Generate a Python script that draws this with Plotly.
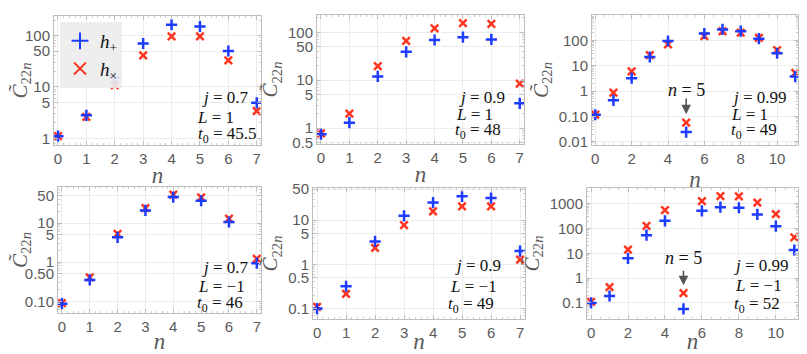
import numpy as np
import plotly.graph_objects as go
from plotly.subplots import make_subplots

# values (log scale)
n8 = list(range(8))
n12 = list(range(12))

plus_a = [1.1, 2.8, 15, 70, 162, 150, 50, 4.9]
cross_a = [1.1, 2.6, 10.8, 41, 96, 96, 33, 3.4]
plus_b = [0.75, 1.3, 12, 39, 69, 79, 71, 3.3]
cross_b = [0.78, 2.0, 19.7, 66, 121, 155, 150, 8.5]
plus_c = [0.116, 0.43, 3.2, 22, 94, 0.024, 186, 270, 230, 116, 31, 3.7]
cross_c = [0.116, 0.86, 6.0, 26, 70, 0.057, 148, 230, 200, 126, 41, 5.2]
plus_d = [0.087, 0.35, 4.3, 21, 46, 37, 10.6, 0.94]
cross_d = [0.09, 0.41, 5.3, 24, 53, 45, 12.9, 1.22]
plus_e = [0.1, 0.32, 3.3, 12.5, 25, 34.5, 31.6, 2.0]
cross_e = [0.11, 0.215, 2.35, 7.7, 15.7, 20.4, 20.4, 1.28]
plus_f = [0.1, 0.19, 6.3, 54, 205, 0.057, 520, 730, 690, 370, 124, 13.6]
cross_f = [0.11, 0.43, 14, 128, 550, 0.25, 1280, 2040, 1980, 1100, 380, 44]

j_vals = ["0.7", "0.9", "0.99", "0.7", "0.9", "0.99"]
L_vals = ["1", "1", "1", "\u22121", "\u22121", "\u22121"]
t0_vals = ["45.5", "48", "49", "46", "49", "52"]

yticks_a = [1, 5, 10, 50, 100]
ylabels_a = ["1", "5", "10", "50", "100"]
yticks_b = [0.5, 1, 5, 10, 50, 100]
ylabels_b = ["0.5", "1", "5", "10", "50", "100"]
yticks_c = [0.01, 0.1, 1, 10, 100, 1000]
ylabels_c = ["0.01", "0.10", "1", "10", "100", "1000"]
yticks_d = [0.05, 0.1, 0.5, 1, 5, 10, 50]
ylabels_d = ["0.05", "0.10", "0.50", "1", "5", "10", "50"]
yticks_e = [0.1, 0.5, 1, 5, 10, 50]
ylabels_e = ["0.1", "0.5", "1", "5", "10", "50"]
yticks_f = [0.1, 1, 10, 100, 1000]
ylabels_f = ["0.1", "1", "10", "100", "1000"]

panels = [
    (n8, plus_a, cross_a, yticks_a, ylabels_a, [-0.13, 2.38], [-0.14, 7.15]),
    (n8, plus_b, cross_b, yticks_b, ylabels_b, [-0.33, 2.36], [-0.14, 7.15]),
    (n12, plus_c, cross_c, yticks_c, ylabels_c, [-2.13, 3.0], [-0.18, 11.15]),
    (n8, plus_d, cross_d, yticks_d, ylabels_d, [-1.30, 1.92], [-0.14, 7.15]),
    (n8, plus_e, cross_e, yticks_e, ylabels_e, [-1.235, 1.727], [-0.14, 7.17]),
    (n12, plus_f, cross_f, yticks_f, ylabels_f, [-1.65, 3.635], [-0.22, 11.2]),
]

# the page body has an 8px margin, so the figure is drawn from (8, 8)
OFF = 8
W, H = 807 - OFF, 354 - OFF


def px_x(v):
    return (v - OFF) / W


def px_y(v):
    return 1 - (v - OFF) / H


# plot boxes in window pixels: left, right, top, bottom
boxes = [(54, 261, 16, 145), (317, 524, 15, 144), (592, 798, 15, 145),
         (58, 261, 187, 313), (313, 525, 188, 319), (587, 798, 188, 319)]
# j / L / t0 text positions in window pixels (left x, y of each line)
txt_pos = [
    [(200, 98), (195, 117), (196, 135)],
    [(457, 97), (454, 114), (453, 131)],
    [(730, 97), (729, 114), (729, 131)],
    [(200, 267), (196, 286), (195, 304)],
    [(453, 265), (448, 286), (446, 305)],
    [(732, 265), (733, 285), (732, 305)],
]

blue = "#1e3cff"
red = "#ff3520"
grey_txt = "#5a5a5a"
serif = "Liberation Serif, Times New Roman, DejaVu Serif, serif"
sans = "Liberation Sans, Arial, Helvetica, sans-serif"

fig = make_subplots(rows=2, cols=3)

for i, (nn, yp, yc, tv, tl, yr, xr) in enumerate(panels):
    r, c = i // 3 + 1, i % 3 + 1
    fig.add_trace(go.Scatter(x=nn, y=yc, mode="markers", name="<i>h</i><sub>\u00d7</sub>",
                             legendrank=2, showlegend=(i == 0),
                             marker=dict(symbol="x-thin", size=7.5, color=red,
                                         line=dict(color=red, width=2.5))),
                  row=r, col=c)
    fig.add_trace(go.Scatter(x=nn, y=yp, mode="markers", name="<i>h</i><sub>+</sub>",
                             legendrank=1, showlegend=(i == 0),
                             marker=dict(symbol="cross-thin", size=8, color=blue,
                                         line=dict(color=blue, width=2.5))),
                  row=r, col=c)

    l, rr, t, b = boxes[i]
    minor_vals = [m * 10.0 ** d for d in range(-3, 4) for m in range(1, 10)]
    fig.update_yaxes(type="log", range=yr, tickvals=tv, ticktext=tl,
                     domain=[px_y(b), px_y(t)], automargin=False,
                     showline=True, mirror="ticks", linecolor="#bdbdbd", linewidth=1,
                     ticks="inside", ticklen=4, tickcolor="#bdbdbd",
                     minor=dict(tickvals=minor_vals, ticks="inside", ticklen=2,
                                tickcolor="#cfcfcf", showgrid=False),
                     showgrid=True, gridcolor="#ececec", gridwidth=1, zeroline=False,
                     tickfont=dict(family=sans, size=15, color=grey_txt),
                     title=dict(text="<i>C\u0303</i><sub>22<i>n</i></sub>",
                                font=dict(family=serif, size=21, color=grey_txt),
                                standoff=4),
                     row=r, col=c)
    if len(nn) > 8:
        xt = list(range(0, 12, 2))
    else:
        xt = list(range(8))
    fig.update_xaxes(range=xr, tickvals=xt, domain=[px_x(l), px_x(rr)], automargin=False,
                     showline=True, mirror="ticks", linecolor="#bdbdbd", linewidth=1,
                     ticks="inside", ticklen=4, tickcolor="#bdbdbd",
                     minor=dict(dtick=0.2 if len(nn) <= 8 else 0.5, ticks="inside", ticklen=2,
                                tickcolor="#cfcfcf", showgrid=False),
                     showgrid=True, gridcolor="#ececec", gridwidth=1, zeroline=False,
                     tickfont=dict(family=sans, size=15, color=grey_txt),
                     title=dict(text="<i>n</i>", font=dict(family=serif, size=23, color=grey_txt),
                                standoff=0),
                     row=r, col=c)

    texts = ["<i>j</i> = " + j_vals[i], "<i>L</i> = " + L_vals[i],
             "<i>t</i><sub>0</sub> = " + t0_vals[i]]
    for (px, py), s in zip(txt_pos[i], texts):
        fig.add_annotation(x=px_x(px), y=px_y(py), xref="paper", yref="paper",
                           text=s, showarrow=False, xanchor="left", yanchor="middle",
                           font=dict(family=serif, size=17, color="#111111"))

# n = 5 markers in the j = 0.99 panels
for ax_id, txt_y, tail_y, tip_y in [("3", 0.03, -0.24, -0.92), ("6", 0.80, 0.36, -0.29)]:
    fig.add_annotation(x=5, y=txt_y, xref="x" + ax_id, yref="y" + ax_id,
                       text="<i>n</i> = 5", showarrow=False,
                       font=dict(family=serif, size=18, color="#111111"))
    fig.add_annotation(x=5, y=tip_y, ax=5, ay=tail_y, xref="x" + ax_id, yref="y" + ax_id,
                       axref="x" + ax_id, ayref="y" + ax_id, text="", showarrow=True,
                       arrowhead=2, arrowsize=1.2, arrowwidth=1.6, arrowcolor="#555555")

fig.update_layout(
    width=W, height=H, margin=dict(l=0, r=0, t=0, b=0),
    plot_bgcolor="white", paper_bgcolor="white",
    legend=dict(x=px_x(60), y=px_y(22), xanchor="left", yanchor="top",
                bgcolor="rgba(236,236,236,0.9)", borderwidth=0,
                font=dict(family=serif, size=19, color="#111111"),
                itemwidth=30, tracegroupgap=0, itemsizing="constant"),
)

fig.write_html("out.html")
